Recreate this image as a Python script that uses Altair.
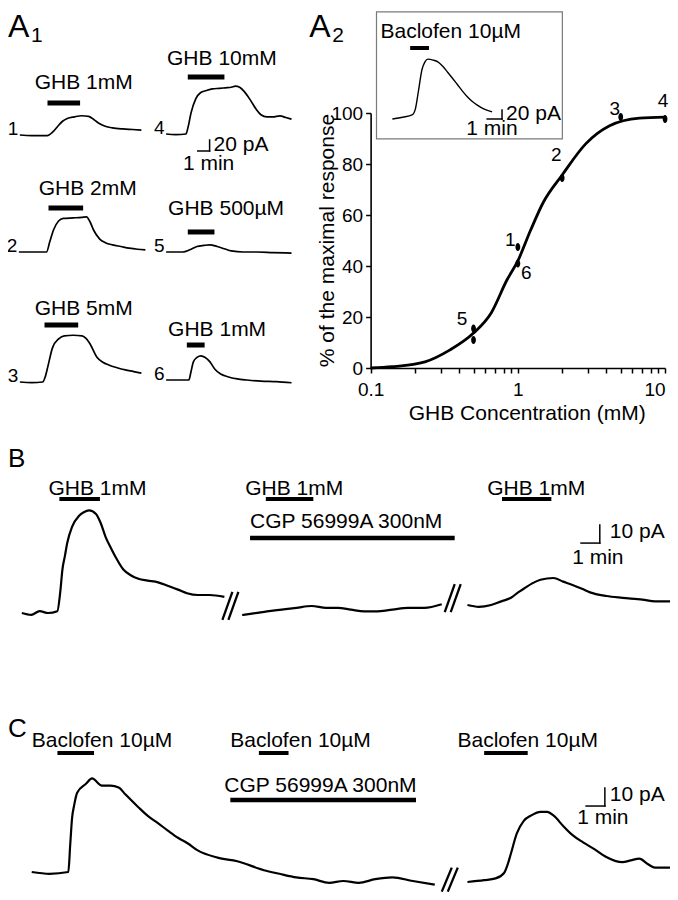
import altair as alt
import pandas as pd

FONT = "Liberation Sans"
INK = "#000000"

# ---------------- data (time in min, current in pA) ----------------
# A1 traces
T1_t = [0, 1.0, 2.3, 2.8, 3.2, 3.6, 4.0, 4.6, 5.2, 5.8, 6.3, 6.7, 7.2, 7.8, 8.7, 9.5, 10.25]
T1_I = [0, -1, -1, 6, 16, 25, 30, 33, 35, 34, 27, 21, 16, 13, 11, 10, 9]
T4_t = [0, 0.8, 1.67, 1.85, 2.1, 2.5, 2.9, 3.4, 3.9, 4.5, 5.0, 5.5, 5.85, 6.2, 6.6, 7.1, 7.6, 8.0, 8.5, 9.0, 9.6, 10.1, 10.58]
T4_I = [0, -1, 0, 12, 38, 64, 75, 79, 82, 83, 84, 85, 87, 85, 77, 62, 45, 35, 31, 31, 33, 30, 27]
T2_t = [0, 1.2, 2.33, 2.6, 2.92, 3.33, 3.75, 4.6, 5.3, 5.7, 6.0, 6.3, 6.8, 7.3, 7.9, 8.6, 9.3, 10.0, 10.67]
T2_I = [0, 0, 0, 18, 40, 56, 61, 62, 63, 64, 55, 40, 24, 17, 13, 10, 7, 5, 4]
T5_t = [0, 1.42, 2.0, 2.6, 3.2, 3.7, 4.3, 4.9, 5.5, 6.5, 7.7, 9.0, 10.58]
T5_I = [0, 0, 4, 10, 12, 13, 10, 6, 2, 0, 0, -1, -2]
T3_t = [0, 1.0, 1.92, 2.15, 2.35, 2.75, 3.3, 3.75, 4.5, 5.25, 5.6, 5.9, 6.5, 7.0, 7.5, 8.2, 8.9, 9.6, 10.25]
T3_I = [0, -1, 0, 10, 27, 62, 79, 84, 85, 84, 79, 70, 45, 36, 31, 26, 22, 19, 16]
T6_t = [0, 1.0, 1.92, 2.1, 2.3, 2.6, 2.95, 3.3, 3.7, 4.1, 4.6, 5.2, 6.0, 6.8, 8.0, 9.3, 10.58]
T6_I = [0, 0, 0, 15, 33, 41, 44, 41, 33, 20, 11, 6, 2, 0, -2, -3, -5]

# A1 drug applications (start, end) in min
A1_DRUG = {"1": (2.33, 5.08), "4": (1.83, 4.92), "2": (2.5, 5.42),
           "5": (1.83, 4.08), "3": (2.08, 4.92), "6": (1.75, 3.25)}
A1_NAMES = {"1": "GHB 1mM", "4": "GHB 10mM", "2": "GHB 2mM",
            "5": "GHB 500µM", "3": "GHB 5mM", "6": "GHB 1mM"}

# A2 inset: baclofen trace
INS_t = [0, 0.7, 1.33, 1.55, 1.75, 2.0, 2.2, 2.4, 2.75, 3.07, 3.4, 3.73, 4.07, 4.4, 4.73, 5.07, 5.4, 5.73, 6.2, 6.73]
INS_I = [0, 4, 9, 22, 60, 110, 127, 133, 131, 127, 117, 104, 90, 76, 62, 49, 39, 31, 22, 16]
INS_DRUG = (1.2, 2.47)

# A2 dose-response
PT_conc = [0.5, 0.5, 1, 1, 2, 5, 10]
PT_resp = [15.5, 11, 47.5, 41, 74.5, 98.4, 97.6]
PT_label = ["5", "", "1", "6", "2", "3", "4"]
CV_conc = [0.1, 0.14, 0.234, 0.344, 0.5, 0.659, 0.843, 1.0, 1.22, 1.49, 2.0, 2.9, 4.2, 6.7, 10]
CV_resp = [0, 0.5, 2.4, 7, 13.7, 21.6, 34.5, 42, 54, 65, 75.7, 88, 95, 98, 98.4]
X_TICKS = [0.1, 0.2, 0.3, 0.4, 0.5, 0.6, 0.7, 0.8, 0.9, 1, 2, 3, 4, 5, 6, 7, 8, 9, 10]
Y_TICKS = [0, 20, 40, 60, 80, 100]

# B traces
B1_t = [0, 0.5, 0.95, 1.4, 1.89, 2.05, 2.16, 2.3, 2.42, 2.68, 3.05, 3.3, 3.58, 3.95, 4.2, 4.47, 4.75, 5.0, 5.42, 5.8, 6.21, 6.7, 7.26, 7.8, 8.32, 8.8, 9.37, 10.0, 10.79]
B1_I = [0, -1, 1, 0, 1, 12, 24, 32, 39, 48, 54, 56, 57, 55, 50, 42, 36, 31, 24, 21, 19, 18, 17, 15, 13, 11, 10, 10, 9]
B2_t = [0, 0.7, 1.32, 2.1, 2.89, 3.7, 4.47, 5.1, 5.79, 6.5, 7.11, 8.0, 8.84, 9.7, 10.63]
B2_I = [0, 1, 2, 3, 4, 5, 4, 4, 3, 2, 2, 3, 4, 4, 6]
B3_t = [0, 0.6, 1.26, 1.8, 2.32, 2.7, 3.0, 3.45, 3.89, 4.58, 5.1, 5.63, 6.1, 6.53, 7.4, 8.26, 9.32, 10.0, 10.79]
B3_I = [0, -1, 0, 2, 4, 7, 9, 12, 14, 15, 13, 11, 9, 7, 5, 4, 3, 2, 2]
B_GHB = [(2.0, 4.16), (1.26, 3.79), (1.84, 4.47)]
B_CGP = (0.42, 11.32)

# C traces
C1_t = [0, 0.95, 1.95, 2.05, 2.15, 2.26, 2.42, 2.89, 3.21, 3.74, 4.2, 4.63, 5.0, 5.68, 6.2, 6.74, 7.25, 7.79, 8.3, 8.84, 9.89, 10.95, 12.37, 13.2, 14.1, 15.0, 15.84, 16.6, 17.42, 18.3, 19.21, 20.3, 21.47]
C1_I = [0, -1, 0, 15, 30, 37, 44, 49, 52, 48, 48, 47, 43, 36, 31, 27, 23, 19, 16, 12, 8, 6, 1, -1, -3, -4, -6, -5, -6, -4, -3, -5, -7]
C2_t = [0, 0.89, 1.5, 1.95, 2.15, 2.32, 2.63, 3.0, 3.4, 3.89, 4.25, 4.58, 5.11, 5.6, 6.16, 6.8, 7.37, 8.26, 8.7, 9.16, 9.6, 10.0, 10.79]
C2_I = [0, 1, 2, 5, 10, 16, 27, 34, 37, 39, 39, 37, 31, 26, 22, 18, 14, 11, 12, 13, 10, 8, 8]
C_BAC = [(1.37, 3.32), (12.1, 13.68), (0.89, 3.21)]
C_CGP = (10.58, 20.47)

# scale bars: (min, pA)
SB_A1 = (1, 20)
SB_INS = (1, 20)
SB_BC = (1, 10)

# ---------------- layout ----------------
W, H = 662, 884          # whole figure, fits the 678x900 page with its 8px margins
M = 8                    # page margin
KX = W / 670.0           # slight horizontal squeeze so the right edge fits


def cx(px):
    """page x of the reference -> chart x"""
    return (px - M) * KX


class Group:
    """One recording drawn with its own time / current scales (independent)."""

    def __init__(self, px, py, ppm, ppa):
        x0, base = cx(px), py - M
        self.ppm, self.ppa = ppm * KX, ppa
        self.xsc = alt.Scale(domain=[-x0 / self.ppm, (W - x0) / self.ppm], nice=False, zero=False)
        self.ysc = alt.Scale(domain=[-(H - base) / ppa, base / ppa], nice=False, zero=False)
        self.layers = []

    def X(self):
        return alt.X("t:Q", scale=self.xsc, axis=None)

    def Y(self):
        return alt.Y("I:Q", scale=self.ysc, axis=None)

    def line(self, t, I, sw=1.6):
        d = pd.DataFrame({"t": t, "I": I})
        self.layers.append(alt.Chart(d).mark_line(color=INK, strokeWidth=sw, interpolate="monotone")
                           .encode(x=self.X(), y=self.Y()))

    def bar(self, t1, t2, lvl, sw=4.0):
        d = pd.DataFrame({"t": [t1], "t2": [t2], "I": [lvl]})
        self.layers.append(alt.Chart(d).mark_rule(color=INK, strokeWidth=sw, strokeCap="butt")
                           .encode(x=self.X(), x2="t2:Q", y=self.Y()))

    def text(self, t, lvl, s, size=21, align="left", baseline="alphabetic", dx=0, dy=0):
        d = pd.DataFrame({"t": [t], "I": [lvl], "s": [s]})
        self.layers.append(alt.Chart(d).mark_text(font=FONT, fontSize=size, align=align, baseline=baseline,
                                                  dx=dx, dy=dy, color=INK)
                           .encode(x=self.X(), y=self.Y(), text="s:N"))

    def scalebar(self, tc, Ic, dt, dI, sw=1.5):
        h = pd.DataFrame({"t": [tc - dt], "t2": [tc], "I": [Ic]})
        v = pd.DataFrame({"t": [tc], "I": [Ic], "I2": [Ic + dI]})
        self.layers.append(alt.Chart(h).mark_rule(color=INK, strokeWidth=sw, strokeCap="square")
                           .encode(x=self.X(), x2="t2:Q", y=self.Y()))
        self.layers.append(alt.Chart(v).mark_rule(color=INK, strokeWidth=sw, strokeCap="square")
                           .encode(x=self.X(), y=self.Y(), y2="I2:Q"))

    def brk(self, t, lvl, dxp, dyp, half=14):
        """axis-break mark '//' next to the end of a trace (offsets in px)."""
        ct, cI = t + dxp / self.ppm, lvl - dyp / self.ppa
        rows = []
        for o in (-3.0, 3.0):
            rows.append({"t": ct + (o - 5) / self.ppm, "t2": ct + (o + 5) / self.ppm,
                         "I": cI - half / self.ppa, "I2": cI + half / self.ppa})
        d = pd.DataFrame(rows)
        self.layers.append(alt.Chart(d).mark_rule(color=INK, strokeWidth=2.3)
                           .encode(x=self.X(), x2="t2:Q", y=self.Y(), y2="I2:Q"))

    def chart(self):
        return alt.layer(*self.layers)


def letter(s, x, y, size):
    return (alt.Chart(pd.DataFrame({"s": [s]}))
            .mark_text(font=FONT, fontSize=size, align="left", baseline="alphabetic", color=INK)
            .encode(x=alt.value(x), y=alt.value(y), text="s:N"))


parts = []

# ---------------- A1 ----------------
a1_specs = [
    # key, t, I, trace start (page px), bar level, text t, text dy
    ("1", T1_t, T1_I, (20, 135), 58.2, 1.25, -14),
    ("4", T4_t, T4_I, (168, 134), 103.6, 0.08, -12),
    ("2", T2_t, T2_I, (19, 252), 80.0, 1.67, -13),
    ("5", T5_t, T5_I, (168, 252), 36.4, 0.17, -17),
    ("3", T3_t, T3_I, (20, 382), 103.6, 1.25, -10),
    ("6", T6_t, T6_I, (168, 380), 63.6, 0.17, -9),
]
for key, tt, ii, (px, py), lvl, tx, tdy in a1_specs:
    g = Group(px, py, 12, 0.55)
    g.line(tt, ii, sw=1.7)
    s, e = A1_DRUG[key]
    g.bar(s, e, lvl, sw=5)
    g.text(tx, lvl, A1_NAMES[key], size=21, dy=tdy)
    g.text(0, 0, key, size=19, align="right", dx=-1.5)
    if key == "4":
        g.scalebar(3.67, -30.9, *SB_A1)
        g.text(3.67, -30.9 + SB_A1[1] / 2, "20 pA", size=21, baseline="middle", dx=4)
        g.text(3.67, -30.9, "1 min", size=21, align="center", baseline="middle", dx=-1, dy=13)
    parts.append(g.chart())

# ---------------- A2 ----------------
AX_L, AX_R, AX_B, AX_T = cx(375), cx(673), 368 - M, 113 - M
xax = alt.Axis(values=X_TICKS, orient="bottom", offset=-(H - AX_B),
               labelExpr="datum.value == 0.1 ? '0.1' : (datum.value == 1 ? '1' : (datum.value == 10 ? '10' : ''))",
               labelAlign={"condition": {"test": "datum.value == 10", "value": "right"}, "value": "center"},
               labelFlush=False, labelOverlap=False, grid=False,
               tickSize=5, tickWidth=1.5, tickColor=INK, domainColor=INK, domainWidth=1.6,
               labelFont=FONT, labelFontSize=19, labelColor=INK, labelPadding=7,
               title="GHB Concentration (mM)", titleFont=FONT, titleFontSize=21,
               titleFontWeight="normal", titleColor=INK, titlePadding=3, titleX=cx(533))
yax = alt.Axis(values=Y_TICKS, orient="left", offset=-AX_L, grid=False, labelFlush=False, labelOverlap=False,
               tickSize=5, tickWidth=1.5, tickColor=INK, domainColor=INK, domainWidth=1.6,
               labelFont=FONT, labelFontSize=19, labelColor=INK, labelPadding=3,
               title="% of the maximal response", titleFont=FONT, titleFontSize=21,
               titleFontWeight="normal", titleColor=INK, titleX=-33, titleY=232)
xs = alt.Scale(type="log", domain=[0.1, 10], range=[AX_L, AX_R], nice=False)
ys = alt.Scale(domain=[0, 100], range=[AX_B, AX_T], nice=False, zero=False)
X = alt.X("conc:Q", scale=xs, axis=xax)
Y = alt.Y("resp:Q", scale=ys, axis=yax)

curve_df = pd.DataFrame({"conc": CV_conc, "resp": CV_resp})
pt_df = pd.DataFrame({"conc": PT_conc, "resp": PT_resp, "lab": PT_label})
ELL = "M0,-1A0.6,1,0,1,1,0,1A0.6,1,0,1,1,0,-1Z"

main_layers = [
    alt.Chart(curve_df).mark_line(color=INK, strokeWidth=2.8, interpolate="monotone").encode(x=X, y=Y),
    alt.Chart(pt_df).mark_point(shape=ELL, size=64, filled=True, color=INK, opacity=1).encode(x=X, y=Y),
]
lab_off = {"5": (-11.5, -9), "1": (-7.5, -7), "6": (8.5, 10), "2": (-6, -23), "3": (-6, -8.5), "4": (-2, -18)}
for i, lab in enumerate(PT_label):
    if not lab:
        continue
    dx, dy = lab_off[lab]
    d = pt_df.iloc[[i]]
    main_layers.append(alt.Chart(d).mark_text(font=FONT, fontSize=19, color=INK, align="center",
                                              baseline="middle", dx=dx, dy=dy)
                       .encode(x=X, y=Y, text="lab:N"))
parts.append(alt.layer(*main_layers))

ins = Group(397, 119, 15, 0.45)
box = pd.DataFrame({"t": [-1.07], "t2": [11.47], "I": [-44], "I2": [238]})
ins.layers.append(alt.Chart(box).mark_rect(fillOpacity=0, stroke="#7a7a7a", strokeWidth=1.2)
                  .encode(x=ins.X(), x2="t2:Q", y=ins.Y(), y2="I2:Q"))
ins.line(INS_t, INS_I, sw=1.4)
ins.bar(INS_DRUG[0], INS_DRUG[1], 157.8, sw=4)
ins.text(-0.8, 157.8, "Baclofen 10µM", size=21, dy=-10)
ins.scalebar(7.4, 0, *SB_INS)
ins.text(7.4, SB_INS[1] / 2, "20 pA", size=21, baseline="middle", dx=4, dy=-1)
ins.text(7.4, 0, "1 min", size=21, align="center", baseline="middle", dx=-10, dy=10)
parts.append(ins.chart())

# ---------------- B ----------------
b1 = Group(22, 613, 19, 1.8)
b1.line(B1_t, B1_I, sw=2.2)
b1.bar(*B_GHB[0], 63.3)
b1.text(1.42, 63.3, "GHB 1mM", dy=-4)
b1.brk(B1_t[-1], B1_I[-1], 6, 9)
parts.append(b1.chart())

b2 = Group(245, 615, 19, 1.8)
b2.line(B2_t, B2_I, sw=2.2)
b2.bar(*B_GHB[1], 64.4)
b2.text(0.16, 64.4, "GHB 1mM", dy=-4)
b2.bar(*B_CGP, 42.8, sw=4.5)
b2.text(0.42, 42.8, "CGP 56999A 300nM", dy=-10)
b2.brk(B2_t[-1], B2_I[-1], 11, -6)
parts.append(b2.chart())

b3 = Group(473, 605, 19, 1.8)
b3.line(B3_t, B3_I, sw=2.2)
b3.bar(*B_GHB[2], 58.9)
b3.text(1.05, 58.9, "GHB 1mM", dy=-4)
b3.scalebar(7.05, 34.4, *SB_BC)
b3.text(7.05, 34.4 + SB_BC[1] / 2, "10 pA", baseline="middle", dx=10, dy=-2)
b3.text(7.05, 34.4, "1 min", align="center", baseline="middle", dx=-2, dy=15)
parts.append(b3.chart())

# ---------------- C ----------------
c1 = Group(32, 872, 19, 1.8)
c1.line(C1_t, C1_I, sw=2.2)
c1.bar(*C_BAC[0], 66.1)
c1.text(0, 66.1, "Baclofen 10µM", dy=-6)
c1.bar(*C_BAC[1], 66.1)
c1.text(10.58, 66.1, "Baclofen 10µM", dy=-6)
c1.bar(*C_CGP, 40, sw=4.5)
c1.text(10.26, 40, "CGP 56999A 300nM", dy=-8)
c1.brk(C1_t[-1], C1_I[-1], 15, -5, half=12)
parts.append(c1.chart())

c2 = Group(473, 882, 19, 1.8)
c2.line(C2_t, C2_I, sw=2.2)
c2.bar(*C_BAC[2], 71.7)
c2.text(-0.53, 71.7, "Baclofen 10µM", dy=-6)
c2.scalebar(7.32, 42.2, *SB_BC)
c2.text(7.32, 42.2 + SB_BC[1] / 2, "10 pA", baseline="middle", dx=5, dy=-2)
c2.text(7.32, 42.2, "1 min", align="center", baseline="middle", dx=-2, dy=12)
parts.append(c2.chart())

# ---------------- panel letters ----------------
parts += [letter("A", 0, 29, 32), letter("1", 23, 34, 21),
          letter("A", cx(313), 29, 32), letter("2", cx(313) + 23, 34, 21),
          letter("B", 0, 459, 26), letter("C", 0, 729, 26)]

chart = (alt.layer(*parts)
         .resolve_scale(x="independent", y="independent")
         .properties(width=W, height=H, padding=0, autosize=alt.AutoSizeParams(type="none"))
         .configure_view(stroke="transparent", strokeWidth=0))

chart.save("out.html", embed_options={"renderer": "svg", "actions": False})
